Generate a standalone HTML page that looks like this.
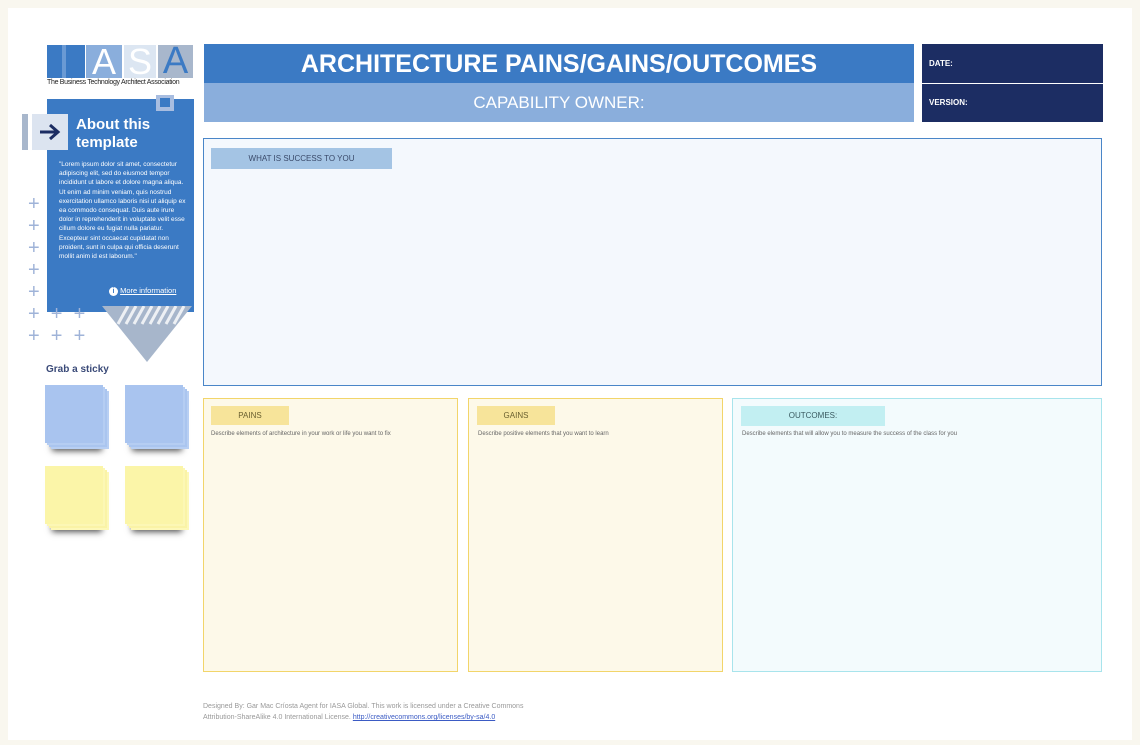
<!DOCTYPE html>
<html><head><meta charset="utf-8"><style>
*{margin:0;padding:0;box-sizing:border-box}
body{width:1140px;height:745px;background:#f9f7ef;font-family:"Liberation Sans",sans-serif;position:relative;overflow:hidden}
.a{position:absolute}
.card{left:8px;top:8px;width:1124px;height:732px;background:#fff}
.plus{color:#9fb3d8;font-size:20px;line-height:20px}
.st{position:absolute;width:58px;height:58px}
</style></head><body>
<div class="a card"></div>
<!-- logo -->
<div class="a" style="left:47px;top:45px;width:38px;height:33px;background:#3b7ac4"></div>
<div class="a" style="left:62px;top:45px;width:4px;height:33px;background:#6a9ad4"></div>
<div class="a" style="left:86px;top:45px;width:36px;height:33px;background:#8aaedc;color:#fff;font-size:36px;line-height:33px;text-align:center">A</div>
<div class="a" style="left:124px;top:45px;width:32px;height:33px;background:#dce6f2;color:#fff;font-size:36px;line-height:33px;text-align:center">S</div>
<div class="a" style="left:158px;top:45px;width:35px;height:33px;background:#a8b7cc;color:#3b7ac4;font-size:38px;line-height:33px;text-align:center">A</div>
<div class="a" style="left:47px;top:79px;font-size:7px;color:#222;letter-spacing:-0.3px">The Business Technology Architect Association</div>
<!-- about panel -->
<div class="a" style="left:47px;top:99px;width:147px;height:213px;background:#3b7ac4"></div>
<div class="a" style="left:156px;top:95px;width:18px;height:16px;background:#a8bde0"></div>
<div class="a" style="left:160px;top:98px;width:10px;height:9px;background:#3b7ac4"></div>
<div class="a" style="left:22px;top:114px;width:6px;height:36px;background:#a8b7cc"></div>
<div class="a" style="left:32px;top:114px;width:36px;height:36px;background:#dce4f0"></div>
<svg class="a" style="left:38px;top:122px" width="24" height="20"><path d="M2 10 H20 M12 3 L20 10 L12 17" stroke="#1c2d63" stroke-width="3" fill="none"/></svg>
<div class="a" style="left:76px;top:116px;color:#fff;font-weight:bold;font-size:15px;line-height:18px">About this<br>template</div>
<div class="a" style="left:59px;top:160px;width:129px;color:#fff;font-size:6.5px;line-height:9.2px">"Lorem ipsum dolor sit amet, consectetur adipiscing elit, sed do eiusmod tempor incididunt ut labore et dolore magna aliqua. Ut enim ad minim veniam, quis nostrud exercitation ullamco laboris nisi ut aliquip ex ea commodo consequat. Duis aute irure dolor in reprehenderit in voluptate velit esse cillum dolore eu fugiat nulla pariatur. Excepteur sint occaecat cupidatat non proident, sunt in culpa qui officia deserunt mollit anim id est laborum."</div>
<div class="a" style="left:109px;top:286px;color:#fff;font-size:7.5px;"><span style="display:inline-block;width:9px;height:9px;border-radius:50%;background:#fff;color:#3b7ac4;font-size:7px;text-align:center;line-height:9px;font-weight:bold">i</span> <u>More information</u></div>
<svg class="a" style="left:100px;top:306px" width="95" height="58"><polygon points="2,0 92,0 47,56" fill="#a7b6cb"/><g stroke="#fff" stroke-width="3" opacity=".8"><line x1="18" y1="18" x2="28" y2="0"/><line x1="26" y1="18" x2="36" y2="0"/><line x1="34" y1="18" x2="44" y2="0"/><line x1="42" y1="18" x2="52" y2="0"/><line x1="50" y1="18" x2="60" y2="0"/><line x1="58" y1="18" x2="68" y2="0"/><line x1="66" y1="18" x2="76" y2="0"/><line x1="74" y1="18" x2="84" y2="0"/></g></svg>
<div class="a" style="left:28px;top:194px;width:70px" >
<div class="plus">+</div><div class="plus" style="margin-top:2px">+</div><div class="plus" style="margin-top:2px">+</div><div class="plus" style="margin-top:2px">+</div><div class="plus" style="margin-top:2px">+</div><div class="plus" style="margin-top:2px">+ &nbsp;+ &nbsp;+</div><div class="plus" style="margin-top:2px">+ &nbsp;+ &nbsp;+</div></div>
<div class="a" style="left:46px;top:364px;font-size:10px;font-weight:bold;color:#3a4a78">Grab a sticky</div>
<div class="st" style="left:45px;top:385px;background:#a9c4ef;box-shadow:2px 2px 0 #b5cdf2,4px 4px 0 #aac5ef,6px 6px 0 #b8cff3,3px 12px 6px -4px #555"></div>
<div class="st" style="left:125px;top:385px;background:#a9c4ef;box-shadow:2px 2px 0 #b5cdf2,4px 4px 0 #aac5ef,6px 6px 0 #b8cff3,3px 12px 6px -4px #555"></div>
<div class="st" style="left:45px;top:466px;background:#fbf5a8;box-shadow:2px 2px 0 #fcf7b5,4px 4px 0 #faf3a6,6px 6px 0 #fdf8b8,3px 12px 6px -4px #555"></div>
<div class="st" style="left:125px;top:466px;background:#fbf5a8;box-shadow:2px 2px 0 #fcf7b5,4px 4px 0 #faf3a6,6px 6px 0 #fdf8b8,3px 12px 6px -4px #555"></div>
<!-- header -->
<div class="a" style="left:204px;top:44px;width:710px;height:39px;background:#3b7ac4;color:#fff;font-weight:bold;font-size:25px;line-height:40px;text-align:center">ARCHITECTURE PAINS/GAINS/OUTCOMES</div>
<div class="a" style="left:204px;top:83px;width:710px;height:39px;background:#8aaedc;color:#fff;font-size:17px;line-height:40px;text-align:center">CAPABILITY OWNER:</div>
<div class="a" style="left:922px;top:44px;width:181px;height:39px;background:#1c2d63;color:#fff;font-size:8px;font-weight:bold;line-height:39px;padding-left:7px">DATE:</div>
<div class="a" style="left:922px;top:84px;width:181px;height:38px;background:#1c2d63;color:#fff;font-size:8px;font-weight:bold;line-height:38px;padding-left:7px">VERSION:</div>
<!-- success -->
<div class="a" style="left:203px;top:138px;width:899px;height:248px;border:1.5px solid #4a86c8;background:#f4f8fd"></div>
<div class="a" style="left:211px;top:148px;width:181px;height:21px;background:#a4c4e4;color:#3a4a6a;font-size:8px;line-height:21px;text-align:center">WHAT IS SUCCESS TO YOU</div>
<!-- boxes -->
<div class="a" style="left:203px;top:398px;width:255px;height:274px;border:1.5px solid #f2d56a;background:#fdf9e9"></div>
<div class="a" style="left:211px;top:406px;width:78px;height:19px;background:#f7e49a;color:#6a6030;font-size:8px;line-height:19px;text-align:center">PAINS</div>
<div class="a" style="left:211px;top:431px;font-size:6px;color:#666">Describe elements of architecture in your work or life you want to fix</div>
<div class="a" style="left:468px;top:398px;width:255px;height:274px;border:1.5px solid #f2d56a;background:#fdf9e9"></div>
<div class="a" style="left:477px;top:406px;width:78px;height:19px;background:#f7e49a;color:#6a6030;font-size:8px;line-height:19px;text-align:center">GAINS</div>
<div class="a" style="left:478px;top:431px;font-size:6px;color:#666">Describe positive elements that you want to learn</div>
<div class="a" style="left:732px;top:398px;width:370px;height:274px;border:1.5px solid #a8e4ec;background:#f3fbfd"></div>
<div class="a" style="left:741px;top:406px;width:144px;height:20px;background:#c2eff2;color:#3a5a60;font-size:8px;line-height:20px;text-align:center">OUTCOMES:</div>
<div class="a" style="left:742px;top:431px;font-size:6px;color:#666">Describe elements that will allow you to measure the success of the class for you</div>
<div class="a" style="left:203px;top:701px;font-size:7px;line-height:11px;color:#999">Designed By: Gar Mac Críosta Agent for IASA Global. This work is licensed under a Creative Commons<br>Attribution-ShareAlike 4.0 International License. <u style="color:#3b5bc4">http://creativecommons.org/licenses/by-sa/4.0</u></div>
</body></html>
